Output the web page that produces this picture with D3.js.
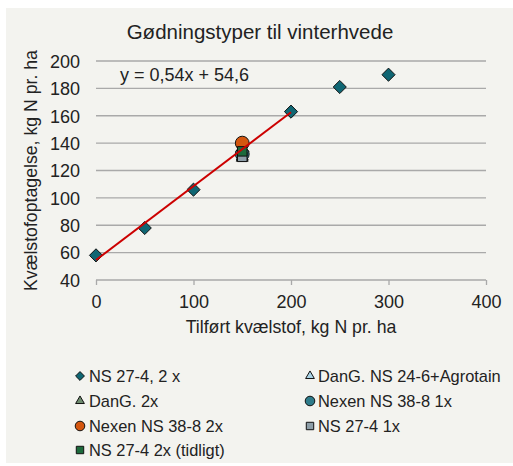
<!DOCTYPE html>
<html><head><meta charset="utf-8">
<script src="https://cdn.jsdelivr.net/npm/d3@7"></script>
<style>body{margin:0;background:#fff;}svg{display:block;font-family:"Liberation Sans",Arial,sans-serif;}</style>
</head><body>
<svg id="c" width="513" height="466"></svg>
<script>
const title = "Gødningstyper til vinterhvede";
const xTitle = "Tilført kvælstof, kg N pr. ha";
const yTitle = "Kvælstofoptagelse, kg N pr. ha";
const equation = "y = 0,54x + 54,6";
const xTicks = [0, 100, 200, 300, 400];
const yTicks = [40, 60, 80, 100, 120, 140, 160, 180, 200];
const seriesNames = ["NS 27-4, 2 x", "DanG. NS 24-6+Agrotain", "DanG. 2x", "Nexen NS 38-8 1x", "Nexen NS 38-8 2x", "NS 27-4 1x", "NS 27-4 2x (tidligt)"];
const seriesShapes = ["diamond", "triangle", "triangle", "circle", "circle", "square", "square"];
const seriesColors = ["#0f6673", "#a9d3e6", "#6e8b6e", "#2e7b8a", "#d4560f", "#8d9ea8", "#1d6a3c"];
const ns2xX = [0, 50, 100, 150, 200, 250, 300];
const ns2xY = [58, 78, 106, 134, 163, 181, 190];
const agrotainX = [150]; const agrotainY = [131];
const dang2xX = [150]; const dang2xY = [130];
const nexen1xX = [150]; const nexen1xY = [132];
const nexen2xX = [150]; const nexen2xY = [140];
const ns1xX = [150]; const ns1xY = [130];
const tidligtX = [150]; const tidligtY = [134];
const trendSlope = 0.54, trendIntercept = 54.6, trendRange = [0, 200];

const seriesX = [ns2xX, agrotainX, dang2xX, nexen1xX, nexen2xX, ns1xX, tidligtX];
const seriesY = [ns2xY, agrotainY, dang2xY, nexen1xY, nexen2xY, ns1xY, tidligtY];

const svg = d3.select("#c");
svg.append("rect").attr("x", 6).attr("y", 8).attr("width", 507).attr("height", 455).attr("fill", "#f3f3ef");

const x = d3.scaleLinear().domain([0, 400]).range([96, 486]);
const y = d3.scaleLinear().domain([40, 200]).range([280, 61]);

// gridlines
svg.append("g").selectAll("line").data(yTicks.filter(d => d > 40)).join("line")
  .attr("x1", x(0)).attr("x2", x(400)).attr("y1", d => y(d)).attr("y2", d => y(d))
  .attr("stroke", "#a9a9a9").attr("stroke-width", 1.3);

// x axis
const xa = svg.append("g").attr("transform", `translate(0,${y(40)})`)
  .call(d3.axisBottom(x).tickValues(xTicks).tickSize(5).tickPadding(10));
xa.select(".domain").attr("stroke", "#a9a9a9").attr("stroke-width", 1.3).attr("d", `M${x(0)},0H${x(400)}`);
xa.selectAll(".tick line").attr("stroke", "#a9a9a9").attr("stroke-width", 1.3);
xa.selectAll("text").attr("font-size", 18).attr("fill", "#222").attr("font-family", "Liberation Sans, Arial, sans-serif");

// y axis
const ya = svg.append("g").attr("transform", `translate(${x(0)},0)`)
  .call(d3.axisLeft(y).tickValues(yTicks).tickSize(0).tickPadding(16));
ya.select(".domain").remove();
ya.selectAll("text").attr("font-size", 18).attr("fill", "#222").attr("font-family", "Liberation Sans, Arial, sans-serif").attr("dy", "0.35em");

// titles
svg.append("text").attr("x", 260).attr("y", 39).attr("text-anchor", "middle").attr("font-size", 20.5).attr("fill", "#222").text(title);
svg.append("text").attr("x", 291).attr("y", 333).attr("text-anchor", "middle").attr("font-size", 17.7).attr("fill", "#222").text(xTitle);
svg.append("text").attr("transform", `translate(37,${y(120)}) rotate(-90)`).attr("text-anchor", "middle").attr("font-size", 17.7).attr("fill", "#222").text(yTitle);
svg.append("text").attr("x", 120).attr("y", 81).attr("font-size", 18).attr("fill", "#222").text(equation);

function sym(shape, size) {
  const t = {diamond: d3.symbolDiamond2, triangle: d3.symbolTriangle2, circle: d3.symbolCircle, square: d3.symbolSquare2}[shape];
  return d3.symbol().type(t).size(size)();
}
const sizes = {diamond: 110, triangle: 100, circle: 150, square: 115};
const legSizes = {diamond: 50, triangle: 55, circle: 72, square: 70};

// markers
seriesNames.forEach((name, i) => {
  const pts = seriesX[i].map((v, j) => [v, seriesY[i][j]]);
  svg.append("g").selectAll("path").data(pts).join("path")
    .attr("d", sym(seriesShapes[i], sizes[seriesShapes[i]]))
    .attr("transform", d => `translate(${x(d[0])},${y(d[1])})` + (seriesShapes[i] === "triangle" ? " translate(0,1)" : ""))
    .attr("fill", seriesColors[i]).attr("stroke", "#111").attr("stroke-width", 1);
});

// trend line
svg.append("line")
  .attr("x1", x(trendRange[0])).attr("y1", y(trendIntercept + trendSlope * trendRange[0]))
  .attr("x2", x(trendRange[1])).attr("y2", y(trendIntercept + trendSlope * trendRange[1]))
  .attr("stroke", "#cc0000").attr("stroke-width", 2);

// legend
const legX = [80, 310], legTextX = [89, 318], legRowY = [376, 401, 426, 450];
seriesNames.forEach((name, i) => {
  const col = i % 2, row = Math.floor(i / 2);
  const g = svg.append("g");
  g.append("path").attr("d", sym(seriesShapes[i], legSizes[seriesShapes[i]]))
    .attr("transform", `translate(${legX[col]},${legRowY[row]})`)
    .attr("fill", seriesColors[i]).attr("stroke", "#111").attr("stroke-width", 1);
  g.append("text").attr("x", legTextX[col]).attr("y", legRowY[row]).attr("dy", "0.35em")
    .attr("font-size", 16.4).attr("fill", "#222").text(name);
});
</script>
</body></html>
